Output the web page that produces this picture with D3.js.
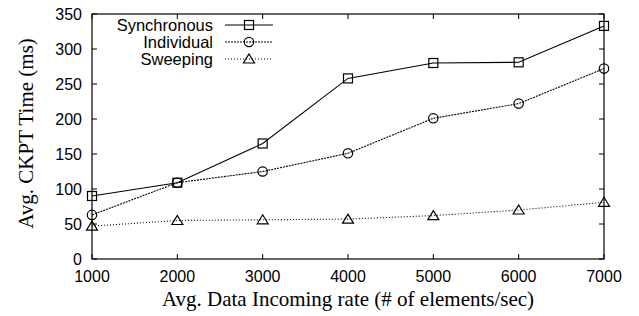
<!DOCTYPE html>
<html>
<head>
<meta charset="utf-8">
<script src="https://cdn.jsdelivr.net/npm/d3@7"></script>
<style>
  body { margin: 0; background: #fff; }
  .tick-label { font-family: "Liberation Sans", Arial, sans-serif; font-size: 16px; }
  .axis-title { font-family: "Liberation Serif", "Times New Roman", serif; font-size: 21px; }
  .legend-label { font-family: "Liberation Sans", Arial, sans-serif; font-size: 16.5px; }
</style>
</head>
<body>
<div id="chart"></div>
<script>
const rates = [1000, 2000, 3000, 4000, 5000, 6000, 7000];
const synchronous = [90, 109, 165, 258, 280, 281, 333];
const individual = [63, 109, 125, 151, 201, 222, 272];
const sweeping = [47, 55, 56, 57, 62, 70, 81];
const yTicks = [0, 50, 100, 150, 200, 250, 300, 350];

const series = [
  { name: 'Synchronous', values: synchronous, dash: null, marker: 'square' },
  { name: 'Individual', values: individual, dash: '2,1', marker: 'circle' },
  { name: 'Sweeping', values: sweeping, dash: '1,2', marker: 'triangle' }
];

const width = 639, height = 316;
const margin = { top: 14, right: 35, bottom: 57, left: 92 };
const plotW = width - margin.left - margin.right;
const plotH = height - margin.top - margin.bottom;

const svg = d3.select('#chart').append('svg')
  .attr('width', width)
  .attr('height', height);

const g = svg.append('g')
  .attr('transform', `translate(${margin.left},${margin.top})`);

const x = d3.scaleLinear().domain([1000, 7000]).range([0, plotW]);
const y = d3.scaleLinear().domain([0, 350]).range([plotH, 0]);

// frame
g.append('rect')
  .attr('width', plotW).attr('height', plotH)
  .attr('fill', 'none').attr('stroke', '#000').attr('stroke-width', 1.2);

// ticks (inside, mirrored)
const tl = 5;
rates.forEach(v => {
  g.append('line').attr('x1', x(v)).attr('x2', x(v)).attr('y1', plotH).attr('y2', plotH - tl).attr('stroke', '#000');
  g.append('line').attr('x1', x(v)).attr('x2', x(v)).attr('y1', 0).attr('y2', tl).attr('stroke', '#000');
  g.append('text').attr('class', 'tick-label')
    .attr('x', x(v)).attr('y', plotH + 23)
    .attr('text-anchor', 'middle').text(v);
});
yTicks.forEach(v => {
  g.append('line').attr('x1', 0).attr('x2', tl).attr('y1', y(v)).attr('y2', y(v)).attr('stroke', '#000');
  g.append('line').attr('x1', plotW).attr('x2', plotW - tl).attr('y1', y(v)).attr('y2', y(v)).attr('stroke', '#000');
  g.append('text').attr('class', 'tick-label')
    .attr('x', -10).attr('y', y(v) + 6)
    .attr('text-anchor', 'end').text(v);
});

// axis titles
svg.append('text').attr('class', 'axis-title')
  .attr('x', margin.left + plotW / 2).attr('y', 306)
  .attr('text-anchor', 'middle')
  .text('Avg. Data Incoming rate (# of elements/sec)');
svg.append('text').attr('class', 'axis-title')
  .attr('transform', `translate(33,${margin.top + plotH / 2 - 3}) rotate(-90)`)
  .attr('text-anchor', 'middle')
  .text('Avg. CKPT Time (ms)');

function drawMarker(sel, type, cx, cy) {
  if (type === 'square') {
    sel.append('rect').attr('x', cx - 4.5).attr('y', cy - 4.5).attr('width', 9).attr('height', 9)
      .attr('fill', 'none').attr('stroke', '#000').attr('stroke-width', 1.2);
  } else if (type === 'circle') {
    sel.append('circle').attr('cx', cx).attr('cy', cy).attr('r', 4.7)
      .attr('fill', 'none').attr('stroke', '#000').attr('stroke-width', 1.2);
  } else {
    sel.append('path')
      .attr('d', `M${cx},${cy - 5}L${cx + 5.5},${cy + 4}L${cx - 5.5},${cy + 4}Z`)
      .attr('fill', 'none').attr('stroke', '#000').attr('stroke-width', 1.2);
  }
}

const line = d3.line().x((d, i) => x(rates[i])).y(d => y(d));

series.forEach(s => {
  g.append('path')
    .attr('d', line(s.values))
    .attr('fill', 'none').attr('stroke', '#000').attr('stroke-width', 1.1)
    .attr('stroke-dasharray', s.dash);
  s.values.forEach((v, i) => drawMarker(g, s.marker, x(rates[i]), y(v)));
});

// legend
series.forEach((s, i) => {
  const ly = 11 + i * 17;
  g.append('text').attr('class', 'legend-label')
    .attr('x', 121).attr('y', ly + 6)
    .attr('text-anchor', 'end').text(s.name);
  g.append('line').attr('x1', 133).attr('x2', 181).attr('y1', ly).attr('y2', ly)
    .attr('stroke', '#000').attr('stroke-width', 1.1).attr('stroke-dasharray', s.dash);
  drawMarker(g, s.marker, 157, ly);
});
</script>
</body>
</html>
